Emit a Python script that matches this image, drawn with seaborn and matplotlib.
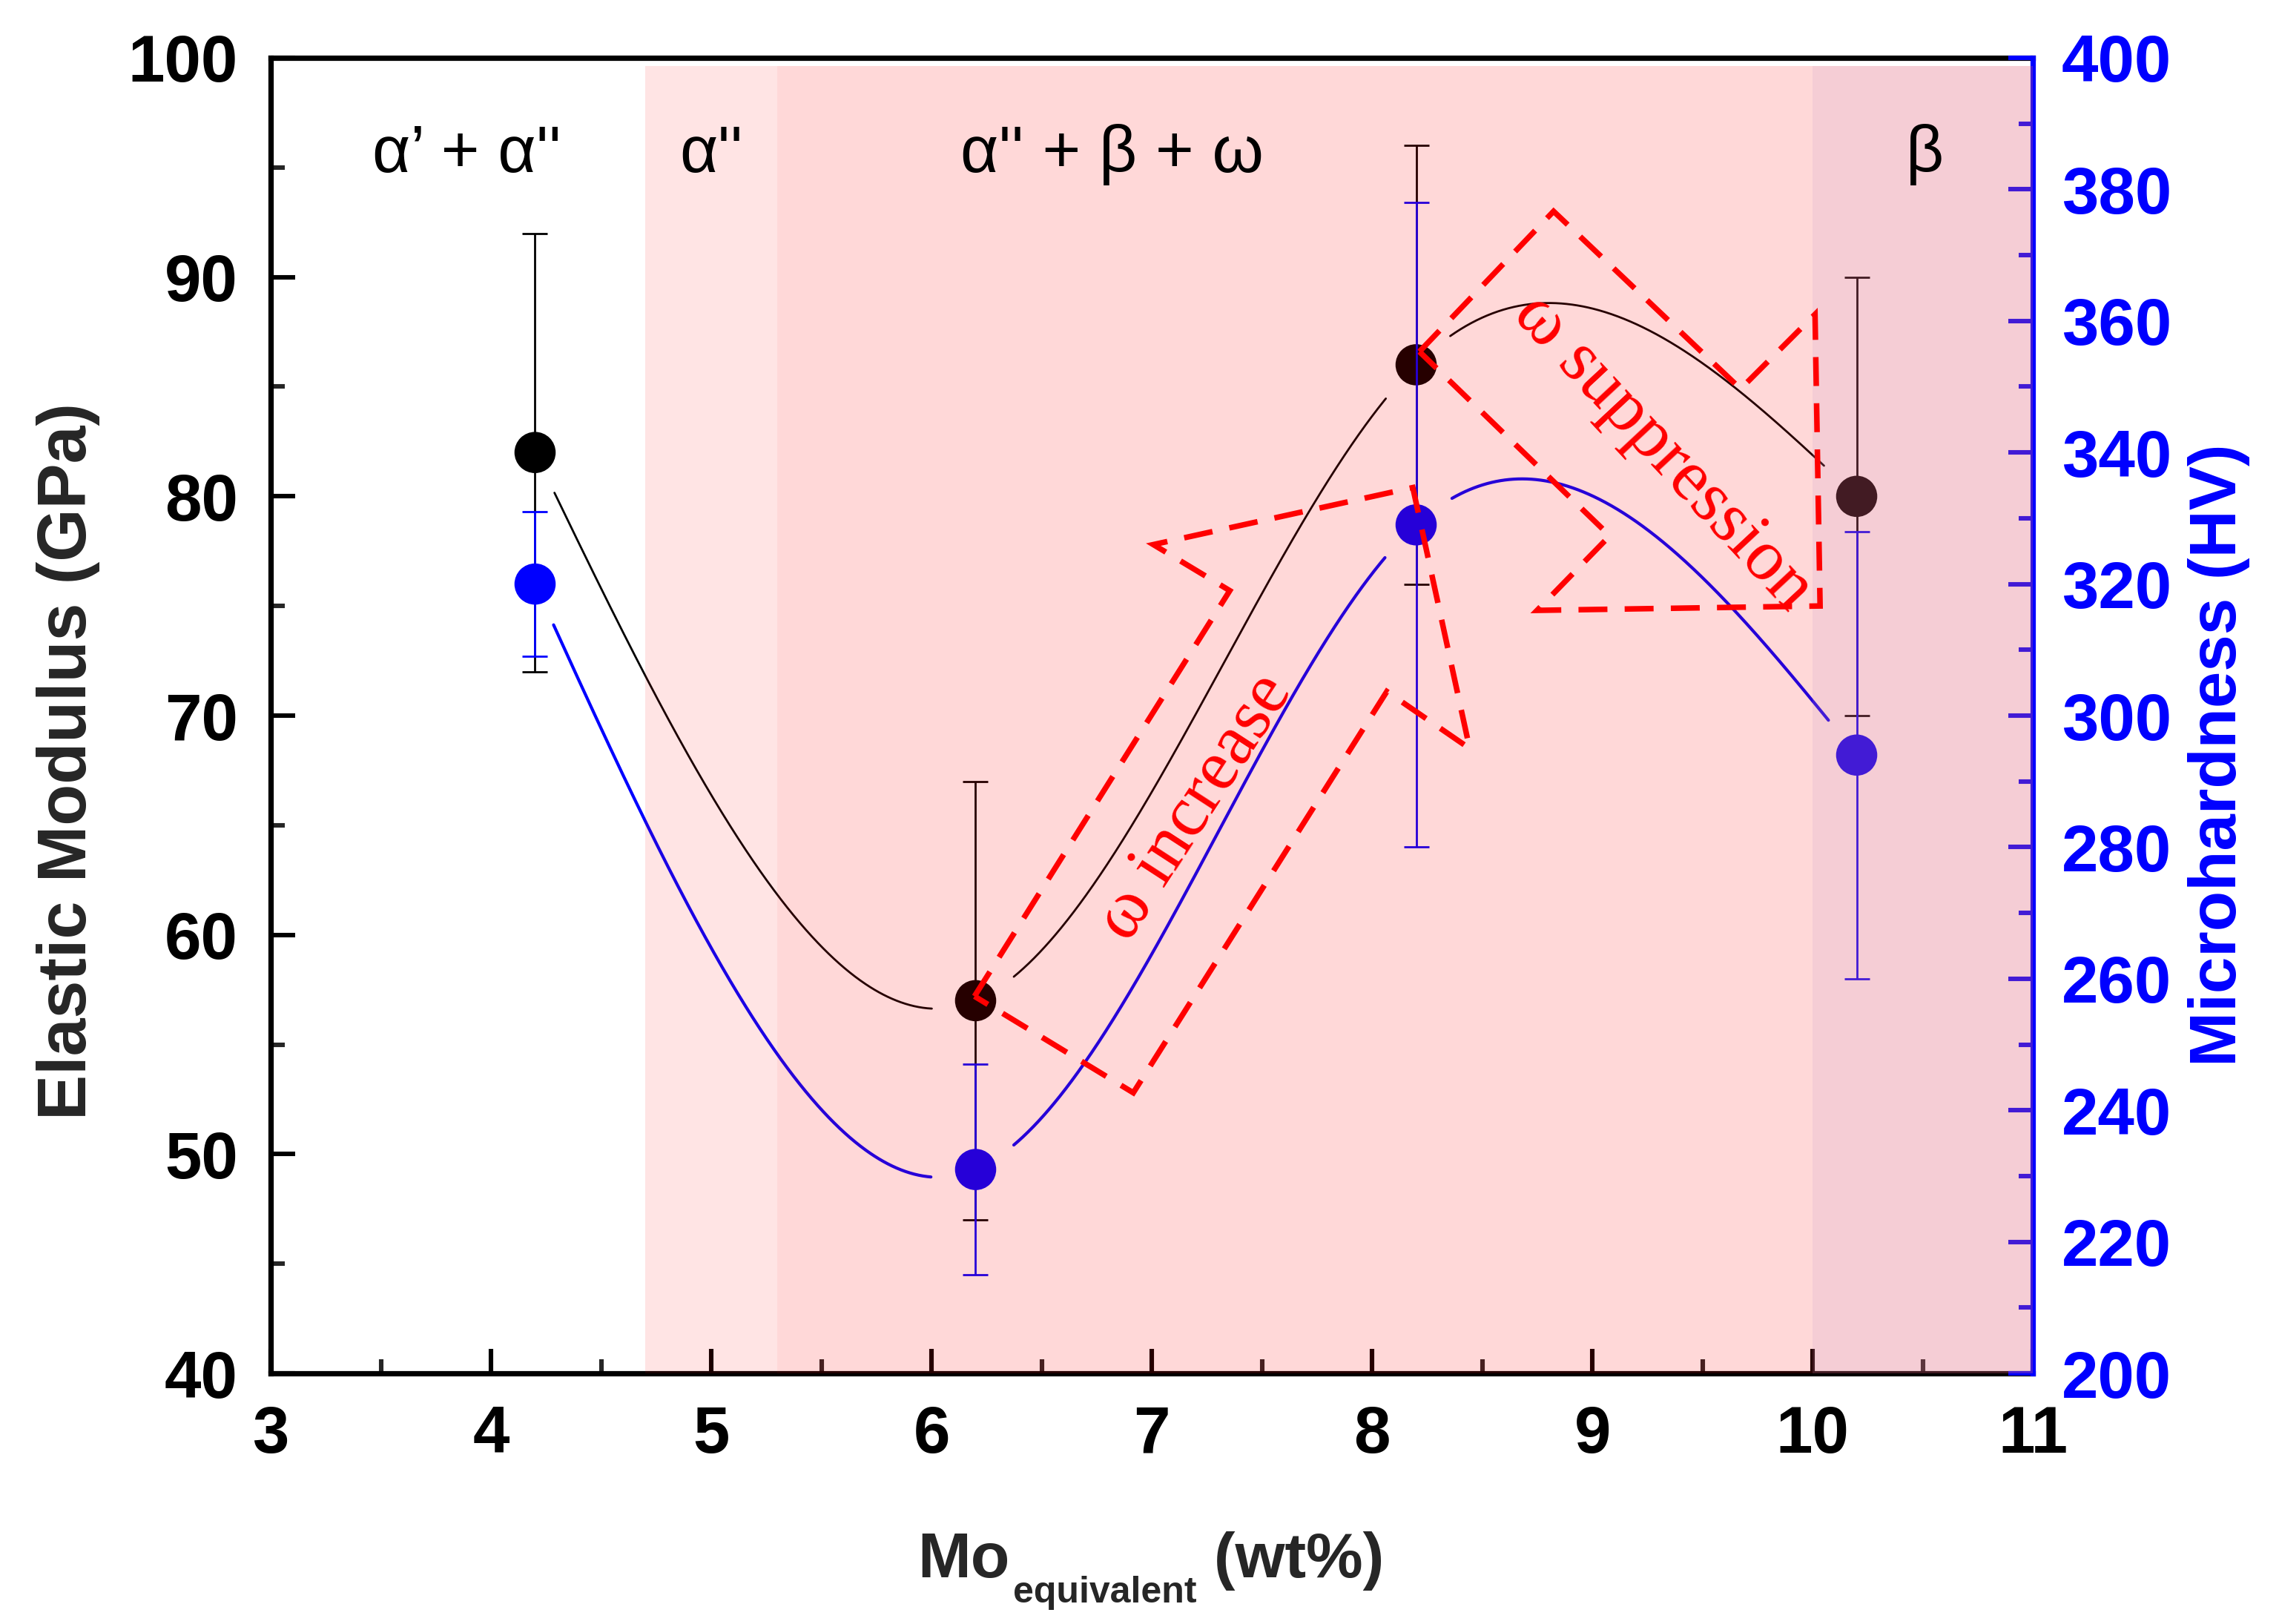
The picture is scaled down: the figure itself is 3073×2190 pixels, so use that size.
import numpy as np
import pandas as pd
import matplotlib
matplotlib.use("Agg")
import matplotlib.pyplot as plt
import seaborn as sns
from matplotlib.patches import Polygon
from matplotlib.ticker import MultipleLocator

# ---------------- data ----------------
mo_eq = [4.2, 6.2, 8.2, 10.2]
modulus = [82, 57, 86, 80]
modulus_err = [10, 10, 10, 10]
hardness = [320, 231, 329, 294]
hardness_err = [11, 16, 49, 34]

phase_labels = ["\u03b1\u2019 + \u03b1''", "\u03b1''", "\u03b1'' + \u03b2 + \u03c9", "\u03b2"]
phase_label_x = [3.89, 5.0, 6.82, 10.51]
phase_spans = [(4.7, 5.3), (5.3, 10.0), (10.0, 11.0)]
phase_colors = [(1.0, 0.0, 0.0, 0.105), (1.0, 0.0, 0.0, 0.153), (0.87, 0.36, 0.46, 0.30)]

x_ticks = [3, 4, 5, 6, 7, 8, 9, 10, 11]
left_ticks = [40, 50, 60, 70, 80, 90, 100]
right_ticks = [200, 220, 240, 260, 280, 300, 320, 340, 360, 380, 400]

x_label_parts = ["Mo", "equivalent", " (wt%)"]
y_label_left = "Elastic Modulus (GPa)"
y_label_right = "Microhardness (HV)"

# annotation arrows (outline vertices, left-axis data units)
arrow_increase = [(6.195, 57.2), (7.354, 75.7), (7.007, 77.8), (8.185, 80.4),
                  (8.443, 68.5), (8.067, 71.1), (6.916, 52.8)]
arrow_suppress = [(8.215, 86.6), (8.824, 93.0), (9.673, 84.9), (10.011, 88.3),
                  (10.034, 75.0), (8.749, 74.8), (9.079, 78.2)]
arrow_texts = ["\u03c9 increase", "\u03c9 suppression"]
arrow_text_pos = [(7.20, 65.8), (9.32, 82.0)]
arrow_text_rot = [57, -47]

# ---------------- style ----------------
sns.set_theme(style="ticks")
plt.rcParams["font.family"] = ["Liberation Sans", "DejaVu Sans"]

BLUE = "#0000FF"
RED = "#FF0000"
W, H = 3073, 2190

fig = plt.figure(figsize=(W / 200, H / 200), dpi=200)
ax = fig.add_subplot(111)
fig.subplots_adjust(left=0.1188, right=0.892, top=0.9644, bottom=0.1543)
ax2 = ax.twinx()

ax.set_xlim(3, 11)
ax.set_ylim(40, 100)
ax2.set_ylim(200, 400)
ax.set_facecolor("white")
ax2.patch.set_visible(False)


def natural_cubic(x, y, xs):
    x = np.asarray(x, float)
    y = np.asarray(y, float)
    n = len(x)
    h = np.diff(x)
    A = np.zeros((n, n))
    r = np.zeros(n)
    A[0, 0] = A[-1, -1] = 1
    for i in range(1, n - 1):
        A[i, i - 1] = h[i - 1]
        A[i, i] = 2 * (h[i - 1] + h[i])
        A[i, i + 1] = h[i]
        r[i] = 6 * ((y[i + 1] - y[i]) / h[i] - (y[i] - y[i - 1]) / h[i - 1])
    M = np.linalg.solve(A, r)
    idx = np.clip(np.searchsorted(x, xs) - 1, 0, n - 2)
    x0, x1 = x[idx], x[idx + 1]
    hh = x1 - x0
    t0 = x1 - xs
    t1 = xs - x0
    return (M[idx] * t0 ** 3 / (6 * hh) + M[idx + 1] * t1 ** 3 / (6 * hh)
            + (y[idx] / hh - M[idx] * hh / 6) * t0
            + (y[idx + 1] / hh - M[idx + 1] * hh / 6) * t1)


def gapped_curve(axis, x, y, gap_px=60):
    xs = np.linspace(min(x), max(x), 1500)
    ys = natural_cubic(x, y, xs)
    pts = axis.transData.transform(np.column_stack([xs, ys]))
    ctr = axis.transData.transform(np.column_stack([x, y]))
    d = np.min(np.linalg.norm(pts[:, None, :] - ctr[None, :, :], axis=2), axis=1)
    keep = d > gap_px
    seg = np.cumsum(~keep)
    return pd.DataFrame({"x": xs, "y": ys, "seg": seg})[keep]


# curves (spline through the points, with gap to symbol)
df_black = gapped_curve(ax, mo_eq, modulus)
sns.lineplot(data=df_black, x="x", y="y", units="seg", estimator=None, sort=False,
             color="black", lw=1.0, ax=ax, legend=False, zorder=2)
df_blue = gapped_curve(ax2, mo_eq, hardness)
sns.lineplot(data=df_blue, x="x", y="y", units="seg", estimator=None, sort=False,
             color=BLUE, lw=1.5, ax=ax2, legend=False, zorder=2)

# error bars
ax.errorbar(mo_eq, modulus, yerr=modulus_err, fmt="none", ecolor="black",
            elinewidth=1.0, capsize=6, capthick=1.0, zorder=3)
ax2.errorbar(mo_eq, hardness, yerr=hardness_err, fmt="none", ecolor=BLUE,
             elinewidth=1.0, capsize=6, capthick=1.0, zorder=3)

# markers
sns.scatterplot(x=mo_eq, y=modulus, ax=ax, color="black", s=400,
                edgecolor="none", zorder=4, legend=False)
sns.scatterplot(x=mo_eq, y=hardness, ax=ax2, color=BLUE, s=400,
                edgecolor="none", zorder=4, legend=False)

# phase shading (drawn on top, translucent)
for (x0, x1), c in zip(phase_spans, phase_colors):
    ax2.axvspan(x0, x1, ymin=0, ymax=0.994, color=c[:3], alpha=c[3], lw=0, zorder=6)

# phase labels
for lab, xl in zip(phase_labels, phase_label_x):
    ax2.text(xl, 94.8, lab, transform=ax.transData, ha="center", va="baseline",
             fontsize=32, color="black", zorder=8)

# annotation arrows
for verts in (arrow_increase, arrow_suppress):
    poly = Polygon(verts, closed=True, fill=False, edgecolor=RED, lw=2.7,
                   linestyle=(0, (5.2, 3.1)), transform=ax.transData, zorder=9)
    ax2.add_patch(poly)
for t, (tx, ty), rot in zip(arrow_texts, arrow_text_pos, arrow_text_rot):
    ax2.text(tx, ty, t, transform=ax.transData, rotation=rot, rotation_mode="anchor",
             ha="center", va="center", color=RED, fontsize=35,
             family=["Liberation Serif", "DejaVu Serif"], zorder=10)

# axes, ticks, spines
ax.set_xticks(x_ticks)
ax.set_yticks(left_ticks)
ax2.set_yticks(right_ticks)
ax.xaxis.set_minor_locator(MultipleLocator(0.5))
ax.yaxis.set_minor_locator(MultipleLocator(5))
ax2.yaxis.set_minor_locator(MultipleLocator(10))

for lab in ax.get_xticklabels() + ax.get_yticklabels() + ax2.get_yticklabels():
    lab.set_fontweight("bold")

ax.tick_params(axis="both", which="major", direction="in", length=12, width=2.2,
               labelsize=32, colors="black", top=False, right=False)
ax.tick_params(axis="y", which="major", pad=16)
ax.tick_params(axis="x", which="major", pad=15)
ax.tick_params(axis="both", which="minor", direction="in", length=7, width=2.2,
               top=False, right=False)
ax2.tick_params(axis="y", which="major", direction="in", length=12, width=2.2,
                labelsize=32, colors=BLUE, pad=14)
ax2.tick_params(axis="y", which="minor", direction="in", length=7, width=2.2,
                colors=BLUE)

for s in ["top", "left", "bottom"]:
    ax.spines[s].set_linewidth(2.6)
    ax.spines[s].set_color("black")
ax.spines["right"].set_visible(False)
for s in ["top", "left", "bottom"]:
    ax2.spines[s].set_visible(False)
ax2.spines["right"].set_color(BLUE)
ax2.spines["right"].set_linewidth(2.6)

# axis labels
ax.set_xlabel("")
ax2.set_xlabel("")
ax.set_ylabel(y_label_left, fontsize=33, fontweight="bold")
ax.yaxis.set_label_coords(-0.0968, 0.4656)
ax2.set_ylabel(y_label_right, fontsize=32, fontweight="bold", color=BLUE, rotation=90)
ax2.yaxis.set_label_coords(1.088, 0.4698)

# x label: Mo with subscript "equivalent"
renderer = fig.canvas.get_renderer()
base_y = (H - 2127) / H
sub_y = (H - 2161) / H
t_main = fig.text(0.40, base_y, x_label_parts[0], fontsize=31, fontweight="bold",
                  ha="left", va="baseline")
bb = t_main.get_window_extent(renderer)
t_sub = fig.text((bb.x1 + 4) / W, sub_y, x_label_parts[1], fontsize=18,
                 fontweight="bold", ha="left", va="baseline")
bb2 = t_sub.get_window_extent(renderer)
t_unit = fig.text(bb2.x1 / W, base_y, x_label_parts[2], fontsize=31,
                  fontweight="bold", ha="left", va="baseline")
bb3 = t_unit.get_window_extent(renderer)
shift = (1552 - (bb.x0 + bb3.x1) / 2) / W
for t in (t_main, t_sub, t_unit):
    x_, y_ = t.get_position()
    t.set_position((x_ + shift, y_))

fig.savefig("out.png", dpi=200)
